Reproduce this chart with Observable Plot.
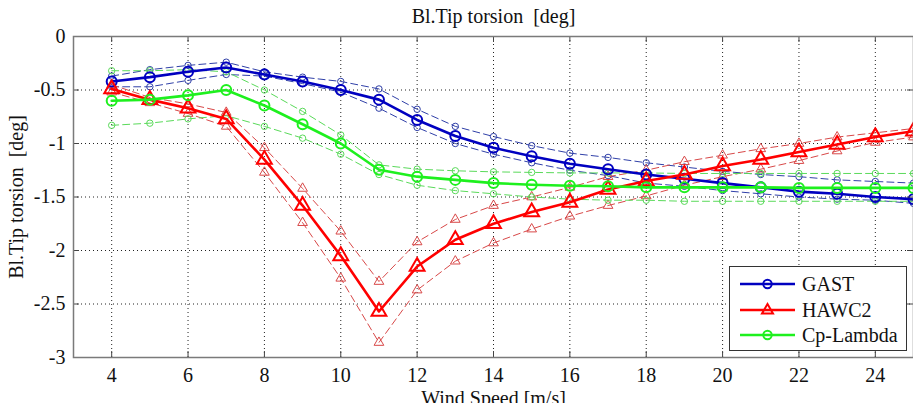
<!DOCTYPE html>
<html><head><meta charset="utf-8">
<script src="https://cdn.jsdelivr.net/npm/d3@7"></script>
<script src="https://cdn.jsdelivr.net/npm/@observablehq/plot@0.6"></script>
<style>
body{margin:0;background:#fff;}
#wrap{position:relative;width:913px;height:403px;overflow:hidden;font-family:"Liberation Serif","Times New Roman",serif;}
#wrap svg text{font-family:"Liberation Serif","Times New Roman",serif;font-variant:normal;}
#legend{position:absolute;left:729px;top:266px;width:178px;height:85px;box-sizing:border-box;border:1px solid #333;background:#fff;}
.lrow{position:absolute;left:0;width:176px;height:26px;}
.lrow svg{position:absolute;left:10px;top:0;}
.lrow span{position:absolute;left:72px;top:1px;font-size:20px;line-height:24px;color:#111;white-space:nowrap;}
</style></head><body><div id="wrap"></div>
<script>
const windSpeed = [4,5,6,7,8,9,10,11,12,13,14,15,16,17,18,19,20,21,22,23,24,25];
const xTicks = [4,6,8,10,12,14,16,18,20,22,24];
const yTicks = [0,-0.5,-1,-1.5,-2,-2.5,-3];

const gast      = [-0.42,-0.38,-0.33,-0.29,-0.355,-0.42,-0.50,-0.59,-0.78,-0.93,-1.04,-1.12,-1.19,-1.24,-1.29,-1.33,-1.37,-1.41,-1.45,-1.47,-1.50,-1.52];
const gastUpper = [-0.37,-0.31,-0.27,-0.24,-0.33,-0.38,-0.42,-0.49,-0.68,-0.84,-0.935,-1.02,-1.09,-1.13,-1.18,-1.22,-1.26,-1.29,-1.31,-1.34,-1.355,-1.37];
const gastLower = [-0.47,-0.47,-0.41,-0.355,-0.37,-0.44,-0.52,-0.67,-0.85,-1.0,-1.10,-1.18,-1.25,-1.30,-1.37,-1.40,-1.44,-1.47,-1.50,-1.52,-1.53,-1.56];

const hawc2      = [-0.49,-0.59,-0.67,-0.77,-1.15,-1.58,-2.05,-2.57,-2.15,-1.90,-1.75,-1.64,-1.55,-1.43,-1.35,-1.29,-1.21,-1.15,-1.08,-1.01,-0.94,-0.885];
const hawc2Upper = [-0.45,-0.57,-0.63,-0.71,-1.04,-1.42,-1.82,-2.29,-1.92,-1.71,-1.58,-1.50,-1.41,-1.31,-1.25,-1.17,-1.11,-1.05,-1.0,-0.94,-0.90,-0.86];
const hawc2Lower = [-0.52,-0.62,-0.72,-0.84,-1.27,-1.74,-2.26,-2.86,-2.37,-2.10,-1.93,-1.80,-1.68,-1.58,-1.49,-1.39,-1.31,-1.24,-1.16,-1.07,-0.99,-0.94];

const cpLambda      = [-0.60,-0.59,-0.55,-0.50,-0.645,-0.82,-1.0,-1.245,-1.31,-1.34,-1.37,-1.385,-1.395,-1.40,-1.41,-1.41,-1.41,-1.41,-1.415,-1.415,-1.415,-1.415];
const cpLambdaUpper = [-0.32,-0.32,-0.31,-0.33,-0.50,-0.70,-0.92,-1.20,-1.24,-1.255,-1.265,-1.27,-1.275,-1.275,-1.275,-1.28,-1.28,-1.28,-1.28,-1.28,-1.28,-1.28];
const cpLambdaLower = [-0.83,-0.81,-0.77,-0.74,-0.84,-0.95,-1.10,-1.29,-1.39,-1.44,-1.47,-1.50,-1.52,-1.53,-1.53,-1.54,-1.54,-1.54,-1.54,-1.54,-1.54,-1.54];

const seriesNames = ["GAST","HAWC2","Cp-Lambda"];
const mainColors = ["#0000c0","#ff0000","#1ef01e"];
const bandColors = ["#3040a8","#d84848","#5ada5a"];
const symbols = ["circle","triangle","circle"];

const series = [
  {main: gast, upper: gastUpper, lower: gastLower},
  {main: hawc2, upper: hawc2Upper, lower: hawc2Lower},
  {main: cpLambda, upper: cpLambdaUpper, lower: cpLambdaLower}
].map((s,k)=>({...s, name: seriesNames[k], color: mainColors[k], band: bandColors[k], symbol: symbols[k]}));

const W = 913, H = 403, mL = 73, mR = 0, mT = 36, mB = 46;
const plotW = W - mL - mR, plotH = H - mT - mB;
const FONT = '"Liberation Serif","Times New Roman",serif';

const marks = [];
marks.push(Plot.ruleX(xTicks, {x: d=>d, stroke:"#222", strokeDasharray:"1,3", strokeWidth:1}));
marks.push(Plot.ruleY(yTicks.filter(d=>d!==0 && d!==-3), {y: d=>d, stroke:"#222", strokeDasharray:"1,3", strokeWidth:1}));

for (const s of series) {
  for (const b of ["upper","lower"]) {
    const rows = windSpeed.map((w,i)=>({ws:w, v:s[b][i]}));
    marks.push(Plot.line(rows, {x:"ws", y:"v", stroke:s.band, strokeWidth:1, strokeDasharray:"7,4"}));
    marks.push(Plot.dot(rows, {x:"ws", y:"v", symbol:s.symbol, r: s.symbol==="triangle"?3.6:3.2, stroke:s.band, strokeWidth:1, fill:"none"}));
  }
}
for (const s of series) {
  const rows = windSpeed.map((w,i)=>({ws:w, v:s.main[i]}));
  marks.push(Plot.line(rows, {x:"ws", y:"v", stroke:s.color, strokeWidth:2.6}));
  marks.push(Plot.dot(rows, {x:"ws", y:"v", symbol:s.symbol, r: s.symbol==="triangle"?5.5:5, stroke:s.color, strokeWidth:2, fill:"none"}));
}

marks.push(Plot.tickX(xTicks, {x:d=>d, insetTop: plotH-6, stroke:"#444"}));
marks.push(Plot.tickX(xTicks, {x:d=>d, insetBottom: plotH-6, stroke:"#444"}));
marks.push(Plot.tickY(yTicks, {y:d=>d, insetRight: plotW-6, stroke:"#444"}));
marks.push(Plot.tickY(yTicks, {y:d=>d, insetLeft: plotW-6, stroke:"#444"}));
marks.push(Plot.frame({stroke:"#7a7a7a", strokeWidth:1.5}));

marks.push(Plot.axisX({ticks:xTicks, tickSize:0, tickPadding:10, fontSize:20, fontFamily:FONT, fontVariant:"normal", label:null, tickFormat:d=>String(d)}));
marks.push(Plot.axisY({ticks:yTicks, tickSize:0, tickPadding:8, fontSize:20, fontFamily:FONT, fontVariant:"normal", label:null, tickFormat:d=>String(d)}));

const common = {text:d=>d, fontSize:20, fontFamily:FONT, fill:"#111", textAnchor:"middle", lineAnchor:"middle"};
marks.push(Plot.text(["Bl.Tip torsion\u00a0 [deg]"], {...common, frameAnchor:"top", dy:-20.4}));
marks.push(Plot.text(["Wind Speed [m/s]"], {...common, frameAnchor:"bottom", dy:40.8}));
marks.push(Plot.text(["Bl.Tip torsion\u00a0 [deg]"], {...common, frameAnchor:"left", dx:-57, rotate:-90}));

const chart = Plot.plot({
  width: W, height: H,
  marginLeft: mL, marginRight: mR, marginTop: mT, marginBottom: mB,
  x: {domain:[3,25]},
  y: {domain:[-3,0]},
  style: {fontFamily:FONT, fontSize:"20px", color:"#111", background:"#fff", overflow:"visible"},
  marks
});
const wrap = document.getElementById("wrap");
wrap.appendChild(chart);

// legend
const legend = document.createElement("div");
legend.id = "legend";
const rowTops = [4, 29.5, 55];
series.forEach((s,k)=>{
  const row = document.createElement("div");
  row.className = "lrow";
  row.style.top = rowTops[k] + "px";
  const sym = s.symbol === "triangle"
    ? `<path d="M27.5,7 L33,16.5 L22,16.5 Z" fill="none" stroke="${s.color}" stroke-width="2"/>`
    : `<circle cx="27.5" cy="13" r="4.2" fill="none" stroke="${s.color}" stroke-width="2"/>`;
  row.innerHTML = `<svg width="56" height="26"><line x1="0" x2="55" y1="13" y2="13" stroke="${s.color}" stroke-width="2.6"/>${sym}</svg><span>${s.name}</span>`;
  legend.appendChild(row);
});
wrap.appendChild(legend);
</script>
</body></html>
